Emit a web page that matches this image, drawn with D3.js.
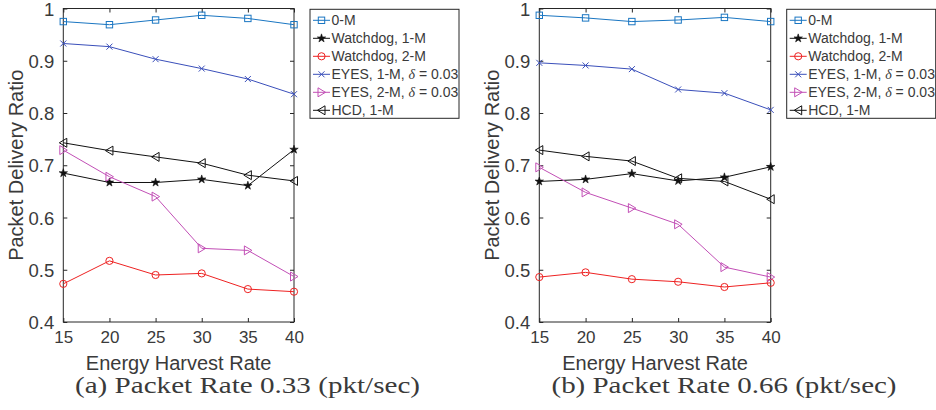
<!DOCTYPE html>
<html>
<head>
<meta charset="utf-8">
<script src="https://cdn.jsdelivr.net/npm/d3@7"></script>
<style>
  body { margin: 0; background: #fff; }
  svg { display: block; }
  text { font-family: "Liberation Sans", Arial, sans-serif; fill: #3a3a3a; }
</style>
</head>
<body>
<div class="container"></div>
<script>
const rates = [15, 20, 25, 30, 35, 40]
const yTicks = [0.4, 0.5, 0.6, 0.7, 0.8, 0.9, 1]
const seriesNames = ["0-M", "Watchdog, 1-M", "Watchdog, 2-M", "EYES, 1-M, δ = 0.03", "EYES, 2-M, δ = 0.03", "HCD, 1-M"]
const seriesColors = ["#1a76c2", "#111111", "#ee2222", "#3a4fba", "#c24fb6", "#111111"]
const seriesMarkers = ["square", "star", "circle", "cross", "triRight", "triLeft"]

// (a) packet rate 0.33
const zeroM_a      = [0.975, 0.969, 0.978, 0.987, 0.981, 0.969]
const watch1M_a    = [0.685, 0.667, 0.667, 0.673, 0.661, 0.730]
const watch2M_a    = [0.473, 0.517, 0.490, 0.493, 0.463, 0.458]
const eyes1M_a     = [0.933, 0.927, 0.903, 0.885, 0.865, 0.836]
const eyes2M_a     = [0.729, 0.678, 0.640, 0.541, 0.537, 0.487]
const hcd1M_a      = [0.743, 0.728, 0.716, 0.704, 0.681, 0.670]

// (b) packet rate 0.66
const zeroM_b      = [0.987, 0.982, 0.975, 0.978, 0.983, 0.975]
const watch1M_b    = [0.669, 0.673, 0.684, 0.670, 0.677, 0.697]
const watch2M_b    = [0.486, 0.495, 0.482, 0.477, 0.467, 0.475]
const eyes1M_b     = [0.896, 0.891, 0.884, 0.845, 0.838, 0.806]
const eyes2M_b     = [0.696, 0.648, 0.618, 0.587, 0.505, 0.486]
const hcd1M_b      = [0.729, 0.717, 0.708, 0.675, 0.669, 0.635]

const panels = [
    {left: 63.3, right: 294, caption: "(a) Packet Rate 0.33 (pkt/sec)", capX: 75,
     data: [zeroM_a, watch1M_a, watch2M_a, eyes1M_a, eyes2M_a, hcd1M_a]},
    {left: 539.3, right: 770.7, caption: "(b) Packet Rate 0.66 (pkt/sec)", capX: 551.5,
     data: [zeroM_b, watch1M_b, watch2M_b, eyes1M_b, eyes2M_b, hcd1M_b]}
]

const plotTop = 8.5, plotBottom = 322

const svg = d3.select(".container")
              .append("svg")
              .attr("width", 936)
              .attr("height", 410)

const drawMarker = (g, type, color, cx, cy) => {
    if(type == "square"){
        g.append("rect").attr("x", cx-3.2).attr("y", cy-3.2).attr("width", 6.4).attr("height", 6.4)
         .attr("fill", "none").attr("stroke", color).attr("stroke-width", 1)
    }else if(type == "circle"){
        g.append("circle").attr("cx", cx).attr("cy", cy).attr("r", 3.6)
         .attr("fill", "none").attr("stroke", color).attr("stroke-width", 1)
    }else if(type == "cross"){
        g.append("path").attr("d", `M${cx-3},${cy-3}L${cx+3},${cy+3}M${cx-3},${cy+3}L${cx+3},${cy-3}`)
         .attr("stroke", color).attr("stroke-width", 1)
    }else if(type == "triRight"){
        g.append("path").attr("d", `M${cx-3.5},${cy-4.5}L${cx+4},${cy}L${cx-3.5},${cy+4.5}Z`)
         .attr("fill", "none").attr("stroke", color).attr("stroke-width", 1)
    }else if(type == "triLeft"){
        g.append("path").attr("d", `M${cx+3.5},${cy-4.5}L${cx-4},${cy}L${cx+3.5},${cy+4.5}Z`)
         .attr("fill", "none").attr("stroke", color).attr("stroke-width", 1)
    }else if(type == "star"){
        const star = d3.symbol().type(d3.symbolStar).size(22)
        g.append("path").attr("d", star()).attr("transform", `translate(${cx},${cy})`)
         .attr("fill", color).attr("stroke", color).attr("stroke-width", 0.6)
    }
}

panels.forEach((p) => {
    const x = d3.scaleLinear().domain([15, 40]).range([p.left, p.right])
    const y = d3.scaleLinear().domain([0.4, 1]).range([plotBottom, plotTop])
    const g = svg.append("g")

    // box
    g.append("rect").attr("x", p.left).attr("y", plotTop)
     .attr("width", p.right - p.left).attr("height", plotBottom - plotTop)
     .attr("fill", "none").attr("stroke", "#262626").attr("stroke-width", 1)

    // ticks on all four sides
    const axLeft = d3.axisLeft(y).tickValues(yTicks).tickSizeInner(-4).tickSizeOuter(0)
                     .tickPadding(9).tickFormat(d3.format("~g"))
    const gl = g.append("g").attr("transform", `translate(${p.left},0)`).call(axLeft)
    gl.select(".domain").remove()
    gl.selectAll("line").attr("stroke", "#262626")
    gl.selectAll("text").style("font-size", "18.5px").attr("fill", "#444").attr("dy", "0.36em")
      .style("font-family", "Liberation Sans, Arial, sans-serif")

    const axRight = d3.axisRight(y).tickValues(yTicks).tickSizeInner(-4).tickSizeOuter(0).tickFormat("")
    const gr = g.append("g").attr("transform", `translate(${p.right},0)`).call(axRight)
    gr.select(".domain").remove()
    gr.selectAll("line").attr("stroke", "#262626")

    const axBottom = d3.axisBottom(x).tickValues(rates).tickSizeInner(-4).tickSizeOuter(0).tickPadding(9)
    const gb = g.append("g").attr("transform", `translate(0,${plotBottom})`).call(axBottom)
    gb.select(".domain").remove()
    gb.selectAll("line").attr("stroke", "#262626")
    gb.selectAll("text").style("font-size", "17px").attr("fill", "#444")
      .style("font-family", "Liberation Sans, Arial, sans-serif")

    const axTop = d3.axisTop(x).tickValues(rates).tickSizeInner(-4).tickSizeOuter(0).tickFormat("")
    const gt = g.append("g").attr("transform", `translate(0,${plotTop})`).call(axTop)
    gt.select(".domain").remove()
    gt.selectAll("line").attr("stroke", "#262626")

    // series
    const line = d3.line().x((d, i) => x(rates[i])).y((d) => y(d))
    p.data.forEach((vals, s) => {
        g.append("path").attr("d", line(vals)).attr("fill", "none")
         .attr("stroke", seriesColors[s]).attr("stroke-width", 1)
        vals.forEach((v, i) => drawMarker(g, seriesMarkers[s], seriesColors[s], x(rates[i]), y(v)))
    })

    // axis labels
    g.append("text").attr("x", (p.left + p.right) / 2).attr("y", 370)
     .attr("text-anchor", "middle").style("font-size", "20px").attr("fill", "#444").text("Energy Harvest Rate")
    g.append("text").attr("transform", `translate(${p.left - 40},${(plotTop + plotBottom) / 2}) rotate(-90)`)
     .attr("text-anchor", "middle").style("font-size", "20px").attr("fill", "#444").text("Packet Delivery Ratio")

    // caption
    g.append("text").attr("x", p.capX).attr("y", 393)
     .attr("textLength", 345).attr("lengthAdjust", "spacingAndGlyphs")
     .style("font-family", "Liberation Serif, Times New Roman, serif").style("font-size", "24px")
     .attr("fill", "#222").text(p.caption)

    // legend
    const lx = p.right + 16, ly = 9.3
    const lg = g.append("g")
    lg.append("rect").attr("x", lx).attr("y", ly).attr("width", 149).attr("height", 109)
      .attr("fill", "#fff").attr("stroke", "#262626").attr("stroke-width", 1)
    seriesNames.forEach((name, s) => {
        const cy = ly + 11 + s * 18
        lg.append("line").attr("x1", lx + 3).attr("x2", lx + 20).attr("y1", cy).attr("y2", cy)
          .attr("stroke", seriesColors[s]).attr("stroke-width", 1)
        drawMarker(lg, seriesMarkers[s], seriesColors[s], lx + 11.5, cy)
        const t = lg.append("text").attr("x", lx + 21.5).attr("y", cy + 5)
                    .style("font-size", "14px").attr("fill", "#222")
        if(name.includes("δ")){
            const parts = name.split("δ")
            t.append("tspan").text(parts[0])
            t.append("tspan").style("font-family", "Liberation Serif, serif").style("font-style", "italic")
             .text("δ")
            t.append("tspan").text(parts[1])
        }else{
            t.text(name)
        }
    })
})
</script>
</body>
</html>
